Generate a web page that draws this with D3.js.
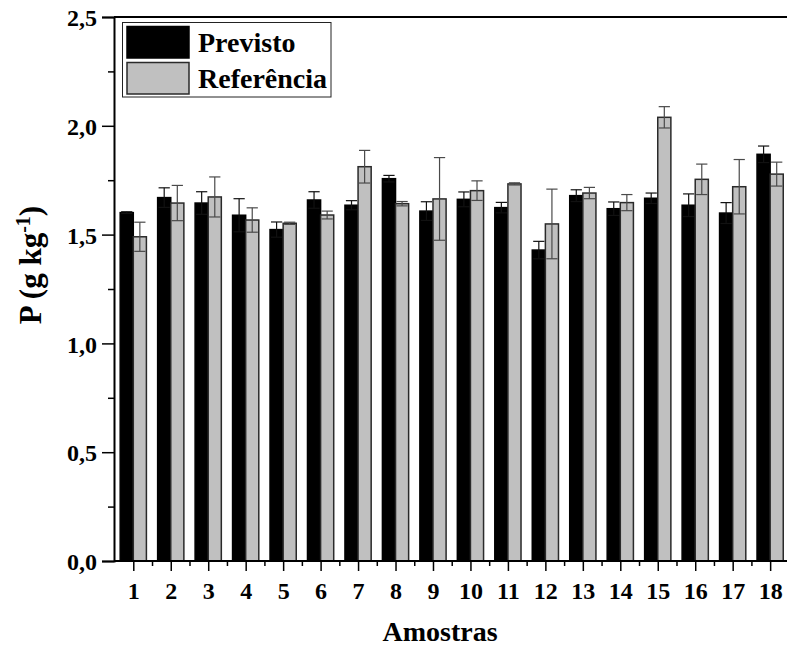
<!DOCTYPE html>
<html>
<head>
<meta charset="utf-8">
<script src="https://cdn.jsdelivr.net/npm/d3@7"></script>
<style>
  html, body { margin: 0; padding: 0; background: #fff; }
  svg { display: block; }
  svg text { font-family: "Liberation Serif", "Times New Roman", serif !important; font-weight: bold; fill: #000; }
</style>
</head>
<body>
<svg id="chart" width="787" height="646"></svg>
<script>
// Sample numbers (Amostras 1–18)
const amostras = [1, 2, 3, 4, 5, 6, 7, 8, 9, 10, 11, 12, 13, 14, 15, 16, 17, 18];

// Predicted P (g kg-1) and its standard deviation
const previsto    = [1.601, 1.670, 1.645, 1.589, 1.523, 1.659, 1.635, 1.757, 1.608, 1.662, 1.624, 1.429, 1.679, 1.619, 1.667, 1.635, 1.599, 1.869];
const previstoErr = [0.004, 0.045, 0.052, 0.076, 0.035, 0.038, 0.021, 0.015, 0.043, 0.034, 0.024, 0.040, 0.027, 0.031, 0.024, 0.052, 0.048, 0.038];

// Reference P (g kg-1) and its standard deviation
const referencia    = [1.490, 1.645, 1.673, 1.567, 1.552, 1.590, 1.812, 1.642, 1.664, 1.702, 1.733, 1.549, 1.691, 1.647, 2.039, 1.754, 1.720, 1.778];
const referenciaErr = [0.067, 0.081, 0.092, 0.056, 0.005, 0.018, 0.075, 0.010, 0.190, 0.045, 0.005, 0.160, 0.026, 0.037, 0.049, 0.070, 0.125, 0.055];

const yTicks = [0, 0.5, 1.0, 1.5, 2.0, 2.5];
const yMinorTicks = [0.25, 0.75, 1.25, 1.75, 2.25];
const seriesNames = ["Previsto", "Referência"];

const FONT = "'Liberation Serif', 'Times New Roman', serif";
const svg = d3.select("#chart");

const plotLeft = 114, plotRight = 787, plotTop = 17, plotBottom = 561;
const x = d3.scaleLinear().domain([0.485, 18.45]).range([plotLeft, plotRight]);
const y = d3.scaleLinear().domain([0, 2.5]).range([plotBottom, plotTop]);

const barW = 0.35;   // bar width in category units
const capW = 0.15;   // half-width of error bar caps

const fmt = d => d3.format(".1f")(d).replace(".", ",");

// Bars
const series = [
  { name: seriesNames[0], values: previsto, err: previstoErr, fill: "#000", stroke: "#000", errColor: "#111", offset: -barW },
  { name: seriesNames[1], values: referencia, err: referenciaErr, fill: "#c0c0c0", stroke: "#2a2a2a", errColor: "#4a4a4a", offset: 0 }
];

series.forEach(s => {
  const g = svg.append("g");
  g.selectAll("rect")
    .data(amostras)
    .join("rect")
    .attr("x", d => x(d + s.offset))
    .attr("width", x(barW) - x(0))
    .attr("y", (d, i) => y(s.values[i]))
    .attr("height", (d, i) => y(0) - y(s.values[i]))
    .attr("fill", s.fill)
    .attr("stroke", s.stroke)
    .attr("stroke-width", 1.5);

  // Error bars centred on each bar
  const eg = svg.append("g").attr("stroke", s.errColor).attr("stroke-width", 1.2).attr("fill", "none");
  amostras.forEach((d, i) => {
    const cx = x(d + s.offset + barW / 2);
    const hi = y(s.values[i] + s.err[i]);
    const lo = y(s.values[i] - s.err[i]);
    const cw = x(capW) - x(0);
    eg.append("line").attr("x1", cx).attr("x2", cx).attr("y1", hi).attr("y2", lo);
    eg.append("line").attr("x1", cx - cw).attr("x2", cx + cw).attr("y1", hi).attr("y2", hi);
    eg.append("line").attr("x1", cx - cw).attr("x2", cx + cw).attr("y1", lo).attr("y2", lo);
  });
});

// Y axis
const yg = svg.append("g").attr("transform", `translate(${plotLeft},0)`)
  .call(d3.axisLeft(y).tickValues(yTicks).tickFormat(fmt).tickSize(12).tickPadding(5));
yg.attr("font-family", FONT);
yg.select(".domain").attr("stroke-width", 2);
yg.selectAll(".tick line").attr("stroke-width", 1.5);
yg.selectAll(".tick text").style("font-size", "24px").attr("dy", "0.36em");
svg.append("g").attr("transform", `translate(${plotLeft},0)`)
  .call(d3.axisLeft(y).tickValues(yMinorTicks).tickSize(6).tickFormat(""))
  .call(g => g.select(".domain").remove())
  .selectAll(".tick line").attr("stroke-width", 1.5);

// X axis
const xg = svg.append("g").attr("transform", `translate(0,${plotBottom})`)
  .call(d3.axisBottom(x).tickValues(amostras).tickFormat(d3.format("d")).tickSize(10).tickPadding(11));
xg.attr("font-family", FONT);
xg.select(".domain").attr("stroke-width", 2).attr("d", `M${plotLeft},0H${plotRight}`);
xg.selectAll(".tick line").attr("stroke-width", 1.5);
xg.selectAll(".tick text").style("font-size", "24px");
svg.append("g").attr("transform", `translate(0,${plotBottom})`)
  .call(d3.axisBottom(x).tickValues(amostras.map(d => d + 0.5).filter(d => d < 18.45)).tickSize(5).tickFormat(""))
  .call(g => g.select(".domain").remove())
  .selectAll(".tick line").attr("stroke-width", 1.5);

// Top frame line
svg.append("line").attr("x1", plotLeft).attr("x2", plotRight).attr("y1", plotTop).attr("y2", plotTop)
  .attr("stroke", "#000").attr("stroke-width", 2);

// Axis titles
svg.append("text").attr("x", 440).attr("y", 641).attr("text-anchor", "middle")
  .style("font-size", "28px").text("Amostras");

const yt = svg.append("text").attr("transform", "translate(41,265) rotate(-90)")
  .attr("text-anchor", "middle").style("font-size", "31px");
yt.append("tspan").text("P (g kg");
yt.append("tspan").attr("dy", -11).style("font-size", "20px").text("-1");
yt.append("tspan").attr("dy", 11).text(")");

// Legend
const lg = svg.append("g");
lg.append("rect").attr("x", 122.5).attr("y", 22.5).attr("width", 208.5).attr("height", 74.5)
  .attr("fill", "#fff").attr("stroke", "#222").attr("stroke-width", 1);
series.forEach((s, i) => {
  lg.append("rect").attr("x", 127).attr("y", 26.5 + i * 36).attr("width", 62).attr("height", 31.5)
    .attr("fill", s.fill).attr("stroke", s.stroke).attr("stroke-width", 1.5);
  lg.append("text").attr("x", 198).attr("y", 52 + i * 36).style("font-size", "28px").text(s.name);
});
</script>
</body>
</html>
